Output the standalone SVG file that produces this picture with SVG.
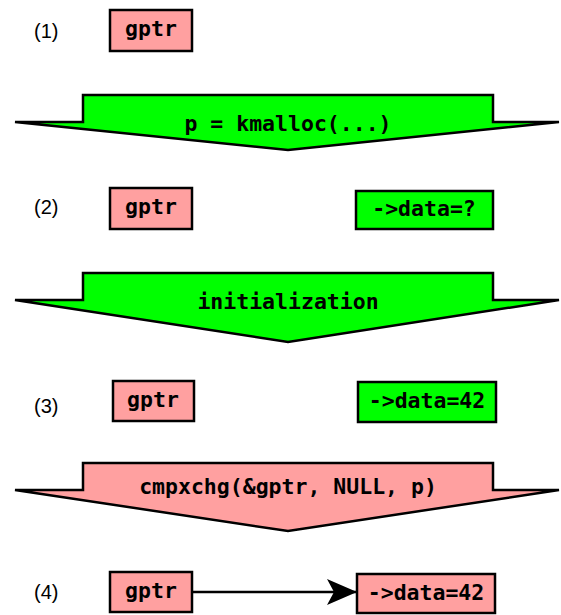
<svg xmlns="http://www.w3.org/2000/svg" width="561" height="615" viewBox="0 0 561 615">
  <style>
    .pink { fill: #ffa0a0; stroke: #000; stroke-width: 2.5; }
    .green { fill: #00ff00; stroke: #000; stroke-width: 2.5; }
    .band { stroke: #000; stroke-width: 2.5; stroke-linejoin: miter; }
    .code { font-family: "DejaVu Sans Mono", "Liberation Mono", monospace; font-weight: bold; font-size: 21.5px; fill: #000; text-anchor: middle; }
    .step { font-family: "Liberation Sans", Arial, sans-serif; font-size: 20px; fill: #000; }
  </style>
  <defs>
    <marker id="head" markerUnits="userSpaceOnUse" markerWidth="32" markerHeight="28" refX="30" refY="13" orient="auto">
      <path d="M0,0 L30,13 L0,26 L7,13 Z" fill="#000"/>
    </marker>
  </defs>

  <rect width="561" height="615" fill="#fff"/>

  <!-- step labels -->
  <g id="labels">
    <text class="step" x="34" y="38">(1)</text>
    <text class="step" x="34" y="214">(2)</text>
    <text class="step" x="34" y="413">(3)</text>
    <text class="step" x="34" y="599">(4)</text>
  </g>

  <!-- transition bands -->
  <g id="step-kmalloc">
    <polygon class="band" fill="#00ff00" points="83,95 493,95 493,122 559,122 288,150 15,122 83,122"/>
    <text class="code" x="288" y="131">p = kmalloc(...)</text>
  </g>
  <g id="step-init">
    <polygon class="band" fill="#00ff00" points="83,273 493,273 493,300 559,300 288,342 15,300 83,300"/>
    <text class="code" x="288" y="309">initialization</text>
  </g>
  <g id="step-cmpxchg">
    <polygon class="band" fill="#ffa0a0" points="83,463 493,463 493,490 559,490 288,531 15,490 83,490"/>
    <text class="code" x="288" y="494">cmpxchg(&amp;gptr, NULL, p)</text>
  </g>

  <!-- state 1 -->
  <g id="gptr-1">
    <rect class="pink" x="110" y="10" width="82" height="41"/>
    <text class="code" x="151" y="36">gptr</text>
  </g>

  <!-- state 2 -->
  <g id="gptr-2">
    <rect class="pink" x="110" y="188" width="82" height="41"/>
    <text class="code" x="151" y="214">gptr</text>
  </g>
  <g id="data-2">
    <rect class="green" x="356" y="191" width="137" height="38"/>
    <text class="code" x="424" y="216">-&gt;data=?</text>
  </g>

  <!-- state 3 -->
  <g id="gptr-3">
    <rect class="pink" x="113" y="381" width="81" height="40"/>
    <text class="code" x="153" y="407">gptr</text>
  </g>
  <g id="data-3">
    <rect class="green" x="358" y="382" width="138" height="40"/>
    <text class="code" x="427" y="408">-&gt;data=42</text>
  </g>

  <!-- state 4 -->
  <g id="gptr-4">
    <rect class="pink" x="110" y="572" width="82" height="40"/>
    <text class="code" x="151" y="598">gptr</text>
  </g>
  <g id="data-4">
    <rect class="pink" x="357" y="574" width="138" height="39"/>
    <text class="code" x="426" y="600">-&gt;data=42</text>
  </g>

  <g id="connectors">
    <line x1="192" y1="592" x2="357" y2="592" stroke="#000" stroke-width="2.5" marker-end="url(#head)"/>
  </g>
</svg>
